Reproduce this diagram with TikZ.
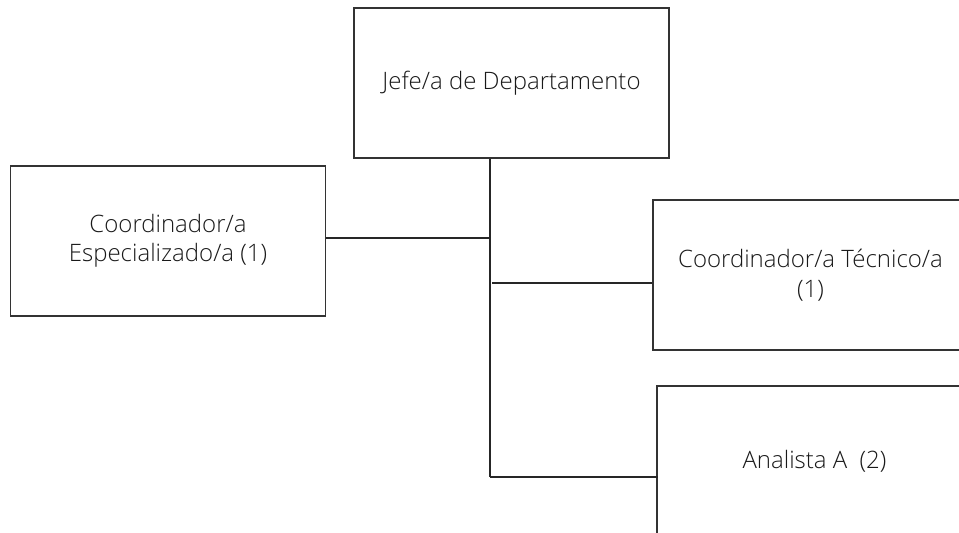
\documentclass[tikz,border=0pt]{standalone}
\usepackage{fontspec}
\setmainfont{Open Sans}[UprightFont=* Light]
\begin{document}
\begin{tikzpicture}[x=1pt,y=-1pt,
  box/.style={draw=black!80, line width=1.3pt, minimum width=315pt, minimum height=150pt,
    inner sep=0pt, align=center, font=\fontsize{24}{29.5}\selectfont, text=black!90},
  conn/.style={draw=black!85, line width=1.3pt}]
\useasboundingbox (0,0) rectangle (959,533);
\clip (0,0) rectangle (959,533);
\node[box] (jefe) at (511.5,83) {Jefe/a de Departamento};
\node[box] (esp) at (168,241) {Coordinador/a\\Especializado/a (1)};
\node[box] (tec) at (810.5,275) {Coordinador/a Técnico/a\\(1)};
\node[box] (ana) at (814.5,461) {Analista A\ \ (2)};
\coordinate (j1) at (490,238);
\coordinate (j2) at (492,283);
\coordinate (trunk) at (490,477);
\draw[conn] (jefe.south -| trunk) -- (trunk);
\draw[conn] (esp.east |- j1) -- (j1);
\draw[conn] (j2) -- (tec.west |- j2);
\draw[conn] (trunk) -- ([xshift=2pt]ana.west |- trunk);
\end{tikzpicture}
\end{document}
